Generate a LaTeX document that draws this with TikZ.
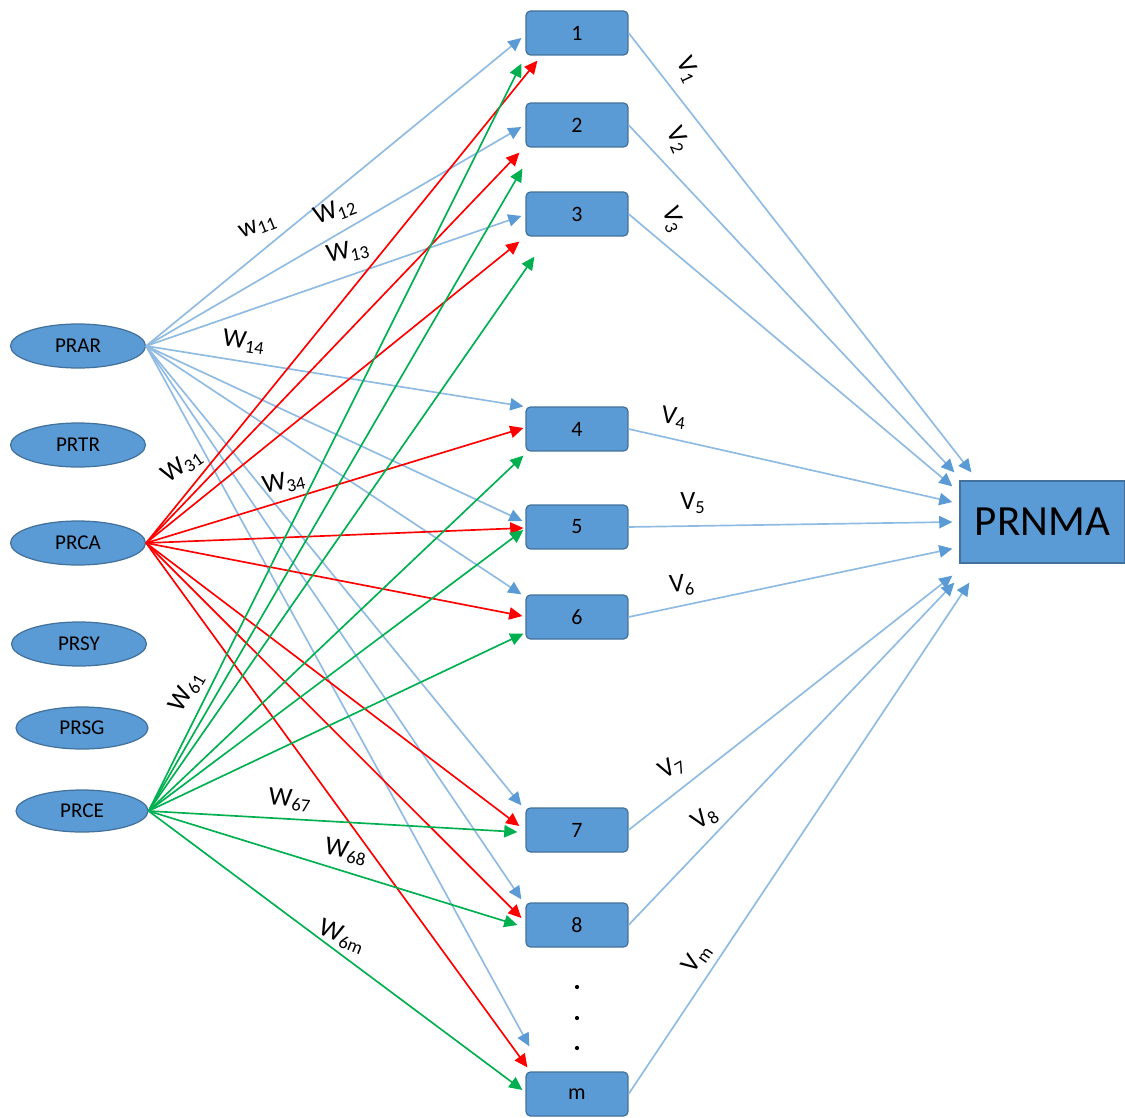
\documentclass[tikz,border=0pt]{standalone}
\usepackage{fontspec}
\setmainfont{Carlito}
\usetikzlibrary{arrows.meta,shapes.geometric}
\definecolor{boxfill}{HTML}{5B9BD5}
\definecolor{boxline}{HTML}{41719C}
\definecolor{lblue}{HTML}{8FBBE3}
\definecolor{tipblue}{HTML}{5B9BD5}
\definecolor{gr}{HTML}{00B050}
\definecolor{rd}{HTML}{FF0000}
\tikzset{
  numbox/.style={draw=boxline, line width=0.7pt, fill=boxfill, rounded corners=2.5pt,
    minimum width=2.04cm, minimum height=0.88cm, inner sep=0pt, font=\fontsize{12.5}{14}\selectfont},
  inbox/.style={ellipse, draw=boxline, line width=0.7pt, fill=boxfill,
    minimum width=2.7cm, minimum height=0.88cm, inner sep=0pt, font=\fontsize{12}{14}\selectfont},
  outbox/.style={draw=boxline, line width=0.7pt, fill=boxfill,
    minimum width=3.3cm, minimum height=1.64cm, inner sep=0pt, font=\fontsize{24.5}{28}\selectfont},
  bl/.style={draw=lblue, line width=0.95pt, -{Triangle[length=7.5pt,width=7pt,color=tipblue]}},
  re/.style={draw=rd, line width=0.95pt, -{Triangle[length=7.5pt,width=7pt,color=rd]}},
  ge/.style={draw=gr, line width=0.95pt, -{Triangle[length=7.5pt,width=7pt,color=gr]}},
  wl/.style={font=\fontsize{15}{17}\selectfont, inner sep=0pt},
  dotn/.style={circle, fill=black, minimum size=2.4pt, inner sep=0pt}
}
\begin{document}
\begin{tikzpicture}[x=0.02cm, y=-0.02cm]
\useasboundingbox (0,0) rectangle (1125,1118);
% hidden boxes
\node[numbox] (b1) at (577,33) {1};
\node[numbox] (b2) at (577,125) {2};
\node[numbox] (b3) at (577,214) {3};
\node[numbox] (b4) at (577,429) {4};
\node[numbox] (b5) at (577,527) {5};
\node[numbox] (b6) at (577,617) {6};
\node[numbox] (b7) at (577,830) {7};
\node[numbox] (b8) at (577,925) {8};
\node[numbox] (bm) at (577,1094) {m};
% input ellipses
\node[inbox] (prar) at (78,346) {PRAR};
\node[inbox] (prtr) at (78,445) {PRTR};
\node[inbox] (prca) at (78,543) {PRCA};
\node[inbox] (prsy) at (79,644) {PRSY};
\node[inbox, minimum width=2.64cm, minimum height=0.84cm] (prsg) at (82,728) {PRSG};
\node[inbox, minimum width=2.64cm, minimum height=0.84cm] (prce) at (82,811) {PRCE};
% output
\node[outbox] (out) at (1042.5,522) {PRNMA};
% dots
\node[dotn] (d1) at (577,987) {};
\node[dotn] (d2) at (577,1018) {};
\node[dotn] (d3) at (577,1048) {};
% blue edges from PRAR
\draw[bl] (prar.east) -- ([shift={(-4,5)}]b1.west);
\draw[bl] (prar.east) -- ([shift={(-4,2)}]b2.west);
\draw[bl] (prar.east) -- ([shift={(-4,2)}]b3.west);
\draw[bl] (prar.east) -- ([shift={(-2,0)}]b4.north west);
\draw[bl] (prar.east) -- ([shift={(-3,-6)}]b5.west);
\draw[bl] (prar.east) -- ([shift={(-4,0)}]b6.north west);
\draw[bl] (prar.east) -- ([shift={(-4,-2)}]b7.north west);
\draw[bl] (prar.east) -- ([shift={(-4,-3)}]b8.north west);
\draw[bl] (prar.east) -- ([shift={(4,-25)}]bm.north west);
% red edges from PRCA
\draw[re] (prca.east) -- ([shift={(12,5)}]b1.south west);
\draw[re] (prca.east) -- ([shift={(-6,5)}]b2.south west);
\draw[re] (prca.east) -- ([shift={(-6,5)}]b3.south west);
\draw[re] (prca.east) -- ([shift={(-2,-1)}]b4.west);
\draw[re] (prca.east) -- ([shift={(-2,1)}]b5.west);
\draw[re] (prca.east) -- ([shift={(-3,-1)}]b6.west);
\draw[re] (prca.east) -- ([shift={(-6,-4)}]b7.west);
\draw[re] (prca.east) -- ([shift={(-4,-7)}]b8.west);
\draw[re] (prca.east) -- ([shift={(2,-4)}]bm.north west);
% green edges from PRCE
\draw[ge] (prce.east) -- ([shift={(-4,8)}]b1.south west);
\draw[ge] (prce.east) -- ([shift={(-3,21)}]b2.south west);
\draw[ge] (prce.east) -- ([shift={(9,20)}]b3.south west);
\draw[ge] (prce.east) -- ([shift={(-2,4)}]b4.south west);
\draw[ge] (prce.east) -- ([shift={(-2,3)}]b5.west);
\draw[ge] (prce.east) -- ([shift={(-2,-6)}]b6.south west);
\draw[ge] (prce.east) -- ([shift={(-8,2)}]b7.west);
\draw[ge] (prce.east) -- ([shift={(-8,0)}]b8.west);
\draw[ge] (prce.east) -- ([shift={(-3,-4)}]bm.west);
% output edges
\draw[bl] (b1.east) -- ([shift={(12,-8)}]out.north west);
\draw[bl] (b2.east) -- ([shift={(-5,-8)}]out.north west);
\draw[bl] (b3.east) -- ([shift={(-7,6)}]out.north west);
\draw[bl] (b4.east) -- ([shift={(-7,-20)}]out.west);
\draw[bl] (b5.east) -- ([shift={(-7,0)}]out.west);
\draw[bl] (b6.east) -- ([shift={(-7,-15)}]out.south west);
\draw[bl] (b7.east) -- ([shift={(-7,12)}]out.south west);
\draw[bl] (b8.east) -- ([shift={(-5,19)}]out.south west);
\draw[bl] (bm.east) -- ([shift={(10,19)}]out.south west);
% weight labels
\node[wl, rotate=22] (lw11) at (258,227) {w\textsubscript{11}};
\node[wl, rotate=20] (lw12) at (335,211) {W\textsubscript{12}};
\node[wl, rotate=12] (lw13) at (348,252) {W\textsubscript{13}};
\node[wl, rotate=-8] (lw14) at (244,342) {W\textsubscript{14}};
\node[wl, rotate=35] (lw31) at (182,466) {W\textsubscript{31}};
\node[wl, rotate=12] (lw34) at (284,483) {W\textsubscript{34}};
\node[wl, rotate=60] (lw61) at (187,692) {W\textsubscript{61}};
\node[wl, rotate=-5] (lw67) at (290,800) {W\textsubscript{67}};
\node[wl, rotate=-12] (lw68) at (346,852) {W\textsubscript{68}};
\node[wl, rotate=-22] (lw6m) at (342,937) {W\textsubscript{6m}};
\node[wl, rotate=-65] (lv1) at (688,70) {V\textsubscript{1}};
\node[wl, rotate=-65] (lv2) at (678,140) {V\textsubscript{2}};
\node[wl, rotate=-70] (lv3) at (673,220) {V\textsubscript{3}};
\node[wl, rotate=-8] (lv4) at (674,418) {V\textsubscript{4}};
\node[wl] (lv5) at (693,503) {V\textsubscript{5}};
\node[wl, rotate=5] (lv6) at (682,585) {V\textsubscript{6}};
\node[wl, rotate=30] (lv7) at (672,768) {V\textsubscript{7}};
\node[wl, rotate=35] (lv8) at (705,818) {V\textsubscript{8}};
\node[wl, rotate=55] (lvm) at (697,958) {V\textsubscript{m}};
\end{tikzpicture}
\end{document}
